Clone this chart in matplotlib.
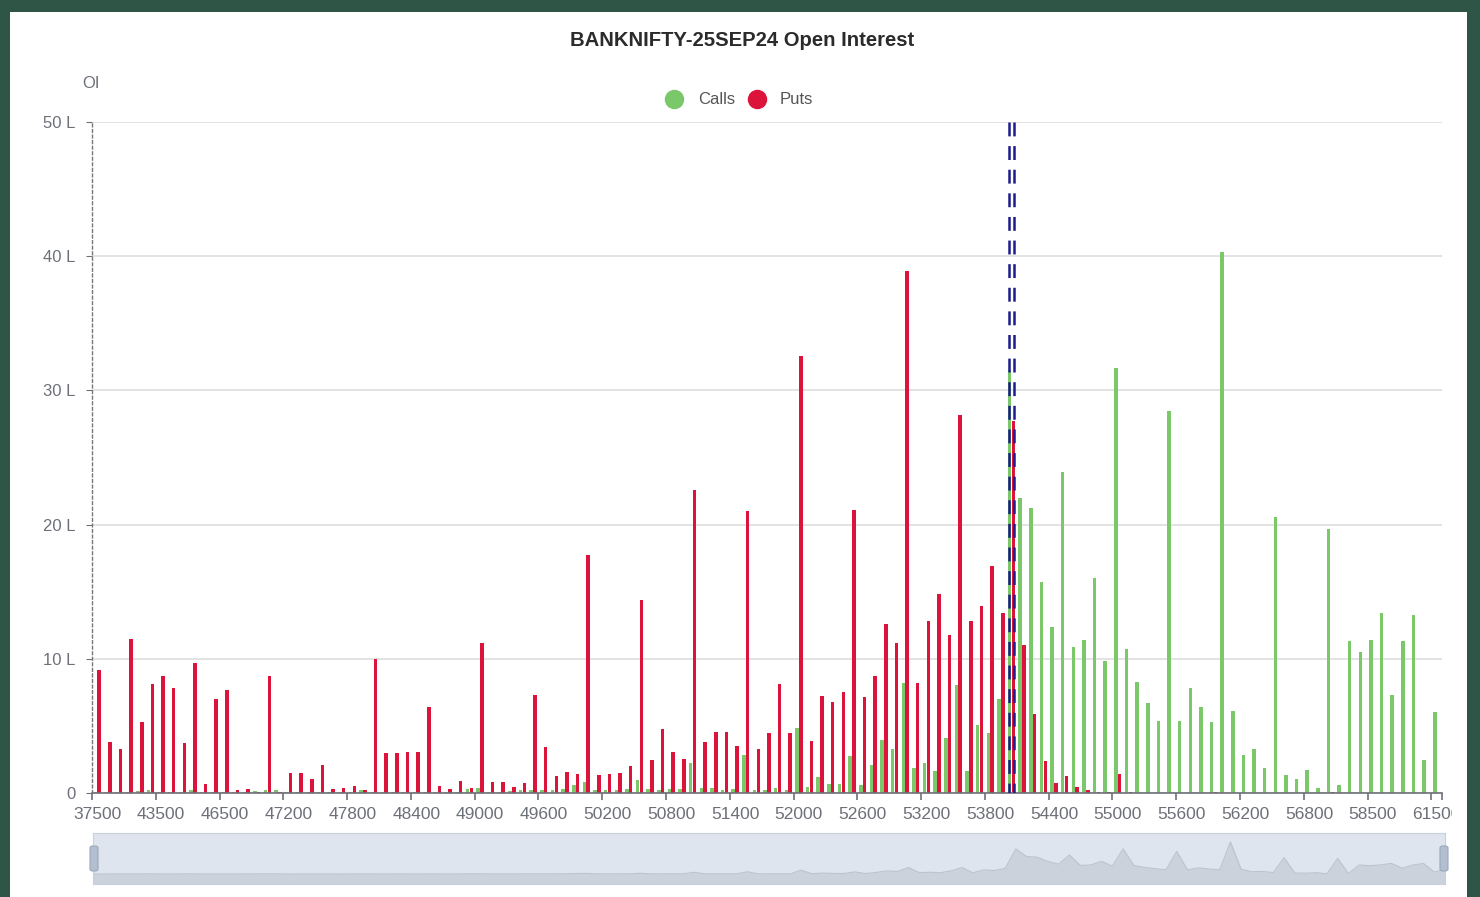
import numpy as np
import matplotlib
matplotlib.use("Agg")
import matplotlib.pyplot as plt
from matplotlib.lines import Line2D
from matplotlib.patches import Rectangle, FancyBboxPatch
from matplotlib.transforms import Bbox, TransformedBbox

plt.rcParams['font.family'] = ['Liberation Sans', 'DejaVu Sans']
plt.rcParams['lines.scale_dashes'] = False

# ---------------- data (OI in lakhs) ----------------
strikes = ([37500, 38500, 39500, 40500, 41500, 42500, 43500, 44000, 44500, 45000,
            45500, 46000, 46500, 46600, 46700, 46800, 46900, 47000]
           + list(range(47200, 56900, 100))
           + [56900, 57000, 57200, 57500, 58000, 58500, 59000, 59500, 60000, 60500,
              61000, 61500])

calls = [0.05, 0.05, 0.1, 0.1, 0.15, 0.2, 0.1, 0.05, 0.1, 0.25,
         0.1, 0.05, 0.1, 0.05, 0.1, 0.15, 0.2, 0.2, 0.05, 0.05,
         0.1, 0.05, 0.1, 0.05, 0.1, 0.2, 0.1, 0.05, 0.1, 0.1,
         0.05, 0.1, 0.1, 0.05, 0.1, 0.3, 0.35, 0.1, 0.1, 0.15,
         0.2, 0.2, 0.2, 0.25, 0.3, 0.6, 0.8, 0.2, 0.2, 0.25,
         0.3, 0.95, 0.3, 0.2, 0.3, 0.3, 2.2, 0.37, 0.37, 0.25,
         0.3, 2.85, 0.2, 0.25, 0.4, 0.2, 4.85, 0.42, 1.2, 0.7,
         0.67, 2.73, 0.57, 2.06, 3.92, 3.28, 8.2, 1.86, 2.23, 1.66,
         4.1, 8.06, 1.61, 5.1, 4.47, 7.0, 31.5, 22.0, 21.2, 15.7,
         12.4, 23.9, 10.9, 11.4, 16.0, 9.8, 31.7, 10.7, 8.3, 6.7,
         5.4, 28.5, 5.33, 7.82, 6.4, 5.26, 40.3, 6.13, 2.8, 3.28,
         1.86, 20.6, 1.32, 1.07, 1.69, 0.37, 19.7, 0.57, 11.3, 10.5,
         11.4, 13.4, 7.27, 11.3, 13.3, 2.43, 6.03]

puts = [9.2, 3.8, 3.3, 11.5, 5.3, 8.1, 8.7, 7.8, 3.7, 9.7,
        0.7, 7.0, 7.7, 0.25, 0.3, 0.1, 8.7, 0.1, 1.5, 1.5,
        1.05, 2.05, 0.32, 0.37, 0.5, 0.25, 10.0, 3.0, 3.0, 3.05,
        3.05, 6.4, 0.5, 0.32, 0.92, 0.37, 11.2, 0.8, 0.8, 0.42,
        0.75, 7.3, 3.45, 1.3, 1.6, 1.4, 17.7, 1.32, 1.45, 1.5,
        2.0, 14.35, 2.45, 4.75, 3.05, 2.5, 22.55, 3.8, 4.55, 4.55,
        3.5, 21.0, 3.3, 4.5, 8.1, 4.5, 32.6, 3.9, 7.2, 6.75,
        7.5, 21.1, 7.15, 8.7, 12.6, 11.2, 38.9, 8.2, 12.8, 14.85,
        11.8, 28.2, 12.8, 13.9, 16.9, 13.4, 27.7, 11.0, 5.9, 2.35,
        0.75, 1.3, 0.42, 0.25, 0.1, 0.1, 1.45, 0.05, 0.03, 0.03,
        0, 0.02, 0, 0, 0, 0.1, 0, 0, 0, 0,
        0, 0, 0, 0, 0, 0, 0.05, 0, 0, 0,
        0, 0, 0, 0, 0, 0, 0]

atm_strike = 54000
y_ticks = [0, 10, 20, 30, 40, 50]
y_labels = ['0', '10 L', '20 L', '30 L', '40 L', '50 L']

GREEN = '#7ac86a'
RED = '#dc143c'
GREY = '#6e7079'

# ---------------- figure + frame ----------------
W, H = 1480, 897
fig = plt.figure(figsize=(W / 100, H / 100), dpi=100, facecolor='#2e5546')
fig.add_artist(Rectangle((10 / W, 0), 1457 / W, (H - 12) / H, transform=fig.transFigure,
                         facecolor='white', edgecolor='none', zorder=-5))

# ---------------- main bar chart ----------------
ax = fig.add_axes([92 / W, (H - 793) / H, 1350 / W, 671 / H])
ax.set_facecolor('none')
x = np.arange(len(strikes))
ax.bar(x - 0.18, calls, width=0.33, color=GREEN, zorder=2)
ax.bar(x + 0.18, puts, width=0.33, color=RED, zorder=2)
ax.set_xlim(-0.5, len(strikes) - 0.5)
ax.set_ylim(0, 50)

# ATM marker line
atm_i = strikes.index(atm_strike)
for dx in (-0.19, 0.19):
    ax.plot([atm_i + dx, atm_i + dx], [50, 0], color='#1c1c8e', lw=1.8,
            linestyle=(0, (10, 7)), zorder=4, solid_capstyle='butt')

# y axis
ax.set_yticks(y_ticks)
ax.set_yticklabels(y_labels)
ax.tick_params(axis='y', length=4, color=GREY, labelcolor=GREY, labelsize=12, pad=8)
ax.yaxis.grid(True, color='#e0e0e0', lw=1.3)
ax.set_axisbelow(True)

# x axis: label every 6th strike, ticks on category boundaries
lab_idx = x[::6]
ax.set_xticks(lab_idx)
ax.set_xticklabels([str(strikes[i]) for i in lab_idx])
ax.set_xticks(list(lab_idx - 0.5) + [len(strikes) - 0.5], minor=True)
ax.tick_params(axis='x', which='major', length=0, pad=10, labelsize=12.5, labelcolor=GREY)
ax.tick_params(axis='x', which='minor', length=5, width=1.2, color=GREY)

for s in ['top', 'right']:
    ax.spines[s].set_visible(False)
ax.spines['bottom'].set_color(GREY)
ax.spines['bottom'].set_linewidth(1.2)
ax.spines['left'].set_color('#777777')
ax.spines['left'].set_linestyle((0, (2, 2)))
ax.spines['left'].set_linewidth(1.0)

# last label is cut off by the chart canvas in the original
last = ax.get_xticklabels()[-1]
last.set_clip_box(TransformedBbox(Bbox.from_extents(0, 0, 1452 / W, 1), fig.transFigure))
last.set_clip_on(True)

# ---------------- titles / legend ----------------
fig.text(742 / W, 1 - 40 / H, 'BANKNIFTY-25SEP24 Open Interest', ha='center', va='center',
         fontsize=14.6, fontweight='bold', color='#2b2b2b')
fig.text(91 / W, 1 - 84 / H, 'OI', ha='center', va='center', fontsize=12, color=GREY)

for cx, tx, col, name in [(674, 698, GREEN, 'Calls'), (757, 780, RED, 'Puts')]:
    fig.add_artist(Line2D([cx / W], [1 - 99 / H], marker='o', ms=13, color=col,
                          linestyle='none', transform=fig.transFigure))
    fig.text(tx / W, 1 - 99 / H, name, ha='left', va='center', fontsize=12, color='#555555')

# ---------------- data zoom slider ----------------
sl = fig.add_axes([93 / W, (H - 884) / H, 1352 / W, 51 / H])
sl.set_facecolor('#dfe5ee')
sl.fill_between(x, calls, -12.5, color='#ccd2dc', lw=0)
sl.plot(x, calls, color='#bcc3ce', lw=0.8)
sl.set_xlim(0, len(strikes) - 1)
sl.set_ylim(-12.5, 51.5)
sl.set_xticks([])
sl.set_yticks([])
for s in sl.spines.values():
    s.set_color('#c8d0dd')

for hx in (94, 1444):
    fig.add_artist(FancyBboxPatch(((hx - 4) / W, 1 - 871 / H), 8 / W, 25 / H,
                                  boxstyle='round,pad=0,rounding_size=0.002',
                                  transform=fig.transFigure, facecolor='#b3bfd0',
                                  edgecolor='#9aa8bc', lw=0.8))

plt.savefig('out.png', dpi=100, facecolor=fig.get_facecolor())
